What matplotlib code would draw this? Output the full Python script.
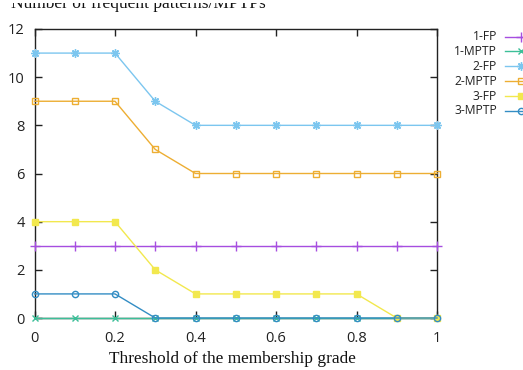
import matplotlib
matplotlib.use("Agg")
import matplotlib.pyplot as plt
from matplotlib.lines import Line2D
from matplotlib.patches import Rectangle

thresholds = [0.0, 0.1, 0.2, 0.3, 0.4, 0.5, 0.6, 0.7, 0.8, 0.9, 1.0]
fp1 = [3, 3, 3, 3, 3, 3, 3, 3, 3, 3, 3]
mptp1 = [0, 0, 0, 0, 0, 0, 0, 0, 0, 0, 0]
fp2 = [11, 11, 11, 9, 8, 8, 8, 8, 8, 8, 8]
mptp2 = [9, 9, 9, 7, 6, 6, 6, 6, 6, 6, 6]
fp3 = [4, 4, 4, 2, 1, 1, 1, 1, 1, 0, 0]
mptp3 = [1, 1, 1, 0, 0, 0, 0, 0, 0, 0, 0]
labels = ["1-FP", "1-MPTP", "2-FP", "2-MPTP", "3-FP", "3-MPTP"]
xticks = [0, 0.2, 0.4, 0.6, 0.8, 1]
xticklabels = ["0", "0.2", "0.4", "0.6", "0.8", "1"]
yticks = [0, 2, 4, 6, 8, 10, 12]

series = [fp1, mptp1, fp2, mptp2, fp3, mptp3]
styles = [
    dict(color="#a64ee0", marker="+", mfc="#a64ee0", ms=7),
    dict(color="#3cbf98", marker="x", mfc="#3cbf98", ms=4.5),
    dict(color="#7cc6ef", marker=(8, 2, 0), mfc="#7cc6ef", ms=6),
    dict(color="#edae33", marker="s", mfc="none", ms=4.5),
    dict(color="#f2e84e", marker="s", mfc="#f2e84e", ms=5),
    dict(color="#338dc4", marker="o", mfc="none", ms=4.5),
]

W, H = 523, 370
fig = plt.figure(figsize=(W / 100, H / 100), dpi=100)
left, right, top, bottom = 34.5, 437, 29, 318
ax = fig.add_axes([left / W, 1 - bottom / H, (right - left) / W, (bottom - top) / H])

for ys, st, lab in zip(series, styles, labels):
    ax.plot(thresholds, ys, lw=1.0, color=st["color"], marker=st["marker"],
            mfc=st["mfc"], mec=st["color"], ms=st["ms"], mew=1.0,
            clip_on=False, label=lab, zorder=3)

ax.set_xlim(0, 1)
ax.set_ylim(0, 12)
ax.set_xticks(xticks)
ax.set_xticklabels(xticklabels)
ax.set_yticks(yticks)
ax.tick_params(direction="in", length=5, width=1, top=True, right=True,
               labelsize=10.5, colors="#222222")
ax.tick_params(axis="x", pad=9.5)
ax.tick_params(axis="y", pad=7)
for lbl in ax.get_xticklabels() + ax.get_yticklabels():
    lbl.set_family("Open Sans")
    lbl.set_color("#222222")
for sp in ax.spines.values():
    sp.set_linewidth(1.0)
    sp.set_color("#222222")

fig.canvas.draw()
renderer = fig.canvas.get_renderer()


def fit_text(t, target_px):
    w = t.get_window_extent(renderer).width
    t.set_fontsize(t.get_fontsize() * target_px / w)


xl = fig.text((110 + 355) / 2 / W, 1 - 359 / H, "Threshold of the membership grade",
              fontsize=12, family="Liberation Serif", ha="center", va="center",
              color="#111111")
fit_text(xl, 245)

title = fig.text(11 / W, 1 - 8 / H, "Number of frequent patterns/MPTPs", fontsize=12,
                 family="Liberation Serif", va="baseline", ha="left", color="#111111")
fit_text(title, 254)
fig.add_artist(Rectangle((0, 1 - 3 / H), 1, 3 / H, transform=fig.transFigure,
                         facecolor="white", edgecolor="none", zorder=10))

# legend (gnuplot style, outside at right)
for i, (st, lab) in enumerate(zip(styles, labels)):
    fy = 1 - (36.5 + 14.9 * i) / H
    fig.text(497 / W, fy, lab, fontsize=8.7, family="Open Sans", ha="right",
             va="center", color="#222222")
    fig.add_artist(Line2D([505 / W, 523 / W], [fy, fy], color=st["color"], lw=1.0,
                          transform=fig.transFigure))
    fig.add_artist(Line2D([521 / W], [fy], color=st["color"], marker=st["marker"],
                          mfc=st["mfc"], mec=st["color"], ms=st["ms"], mew=1.0,
                          transform=fig.transFigure))

fig.savefig("out.png", dpi=100)
